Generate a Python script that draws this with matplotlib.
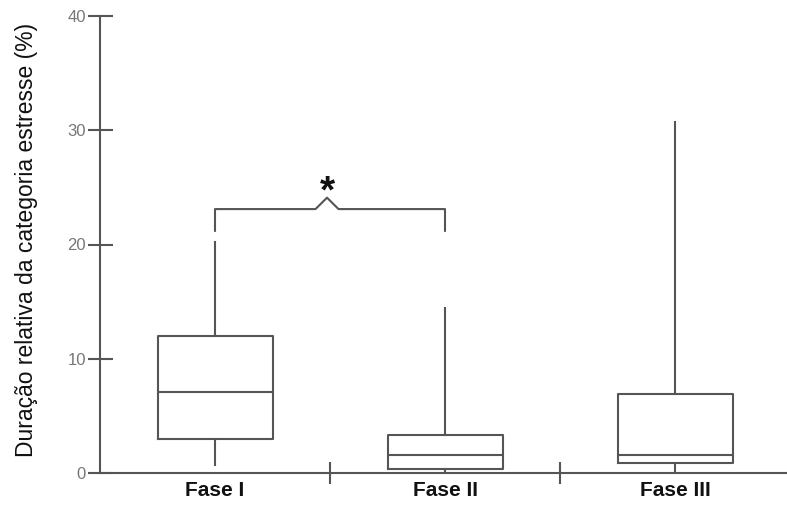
import matplotlib
matplotlib.use('Agg')
import matplotlib.pyplot as plt

plt.rcParams['font.family'] = ['Liberation Sans', 'DejaVu Sans']

# Box statistics (%)
phases = ['Fase I', 'Fase II', 'Fase III']
whisk_lo = [0.7, 0.2, 0.0]
q1 = [3.0, 0.35, 0.85]
median = [7.1, 1.6, 1.6]
q3 = [12.0, 3.3, 6.9]
whisk_hi = [20.2, 14.4, 30.7]

y_ticks = [0, 10, 20, 30, 40]

line_col = '#555555'

fig = plt.figure(figsize=(7.87, 5.05), dpi=100)
ax = fig.add_axes([100 / 787, 1 - 473 / 505, 1 - 100 / 787, (473 - 16) / 505])

stats = []
for i, name in enumerate(phases):
    stats.append(dict(label=name, med=median[i], q1=q1[i], q3=q3[i],
                      whislo=whisk_lo[i], whishi=whisk_hi[i], fliers=[]))

pos = [1, 2, 3]
ax.bxp(stats, positions=pos, widths=0.5, showcaps=False, showfliers=False,
       boxprops=dict(color=line_col, linewidth=1.5),
       whiskerprops=dict(color=line_col, linewidth=1.5),
       medianprops=dict(color=line_col, linewidth=1.5))

ax.set_xlim(0.5, 0.5 + 687 / 230)
ax.set_ylim(0, 40)

# spines
for s in ['top', 'right']:
    ax.spines[s].set_visible(False)
for s in ['left', 'bottom']:
    ax.spines[s].set_color(line_col)
    ax.spines[s].set_linewidth(1.5)

ax.set_yticks(y_ticks)
ax.tick_params(axis='y', direction='inout', length=18, width=1.5, color=line_col,
               labelsize=12, labelcolor='#7a7674', pad=1)

ax.set_xticks(pos)
ax.set_xticklabels(phases, fontweight='bold', fontsize=15)
ax.set_xticks([1.5, 2.5], minor=True)
ax.tick_params(axis='x', which='major', length=0, pad=6, labelcolor='#111111')
ax.tick_params(axis='x', which='minor', direction='inout', length=16, width=1.5,
               color=line_col)

ax.set_ylabel('Duração relativa da categoria estresse (%)', fontsize=16.5,
              color='#111111')
ax.yaxis.set_label_coords(-0.09, 0.51)

# significance bracket between Fase I and Fase II
b_top, b_leg, b_peak = 23.1, 21.2, 24.1
mid = 1.487
xs = [pos[0], pos[0], mid - 0.05, mid, mid + 0.05, pos[1], pos[1]]
ys = [b_leg, b_top, b_top, b_peak, b_top, b_top, b_leg]
ax.plot(xs, ys, color=line_col, linewidth=1.5, clip_on=False)
ax.text(mid, 23.0, '*', ha='center', va='bottom', fontsize=28,
        fontweight='bold', color='#111111')

fig.savefig('out.png', dpi=100)
